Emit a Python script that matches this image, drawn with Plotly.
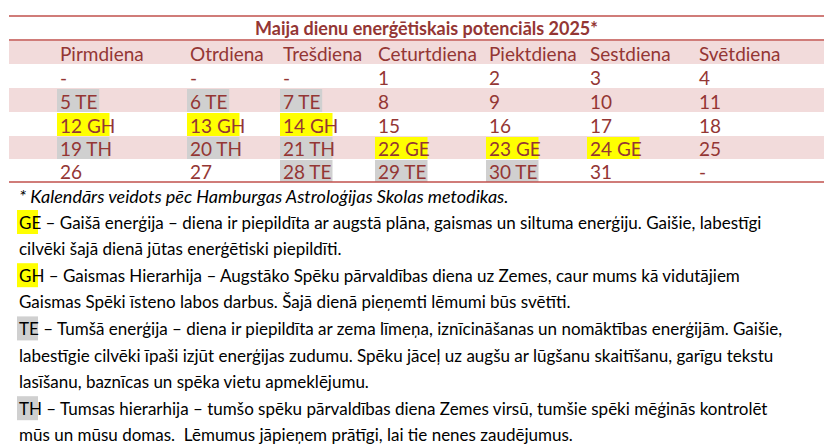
import plotly.graph_objects as go

title = "Maija dienu enerģētiskais potenciāls 2025*"
weekdays = ["Pirmdiena", "Otrdiena", "Trešdiena", "Ceturtdiena", "Piektdiena", "Sestdiena", "Svētdiena"]
weeks = [
    ["-", "-", "-", "1", "2", "3", "4"],
    ["5 TE", "6 TE", "7 TE", "8", "9", "10", "11"],
    ["12 GH", "13 GH", "14 GH", "15", "16", "17", "18"],
    ["19 TH", "20 TH", "21 TH", "22 GE", "23 GE", "24 GE", "25"],
    ["26", "27", "28 TE", "29 TE", "30 TE", "31", "-"],
]
footnote = "* Kalendārs veidots pēc Hamburgas Astroloģijas Skolas metodikas."
legend_codes = ["GE", "GH", "TE", "TH"]
legend_lines = [
    ["– Gaišā enerģija – diena ir piepildīta ar augstā plāna, gaismas un siltuma enerģiju. Gaišie, labestīgi",
     "cilvēki šajā dienā jūtas enerģētiski piepildīti."],
    ["– Gaismas Hierarhija – Augstāko Spēku pārvaldības diena uz Zemes, caur mums kā vidutājiem",
     "Gaismas Spēki īsteno labos darbus. Šajā dienā pieņemti lēmumi būs svētīti."],
    ["– Tumšā enerģija – diena ir piepildīta ar zema līmeņa, iznīcināšanas un nomāktības enerģijām. Gaišie,",
     "labestīgie cilvēki īpaši izjūt enerģijas zudumu. Spēku jāceļ uz augšu ar lūgšanu skaitīšanu, garīgu tekstu",
     "lasīšanu, baznīcas un spēka vietu apmeklējumu."],
    ["– Tumsas hierarhija – tumšo spēku pārvaldības diena Zemes virsū, tumšie spēki mēģinās kontrolēt",
     "mūs un mūsu domas.  Lēmumus jāpieņem prātīgi, lai tie nenes zaudējumus."],
]

RED = "#943634"
PINK = "#F2DBDB"
YELLOW = "#FFFF00"
GREY = "#D0D0D0"
FONT = "Lato"
col_x = [50, 180, 273, 368, 479, 580, 689]
row_top = [33, 56, 80, 104, 128, 151, 174]
char_w = 10.3

def mark_color(label):
    if label.endswith("GE") or label.endswith("GH"):
        return YELLOW
    if label.endswith("TE") or label.endswith("TH"):
        return GREY
    return None

fig = go.Figure()
shapes, anns = [], []

rows = [weekdays] + weeks
for i, row in enumerate(rows):
    y0, y1 = row_top[i], row_top[i + 1]
    if i % 2 == 0:
        shapes.append(dict(type="rect", x0=1, x1=836, y0=y0, y1=y1, fillcolor=PINK, line_width=0, layer="below"))
    for j, label in enumerate(row):
        c = mark_color(label)
        if c:
            shapes.append(dict(type="rect", x0=col_x[j] - 1, x1=col_x[j] + len(label) * char_w,
                               y0=y0 + 1, y1=y1, fillcolor=c, line_width=0, layer="below"))
        anns.append(dict(x=col_x[j], y=(y0 + y1) / 2 + 1, text=label, xanchor="left", yanchor="middle",
                         showarrow=False, font=dict(family=FONT, size=19, color=RED)))

for y in [8, 32, 174]:
    shapes.append(dict(type="line", x0=1, x1=836, y0=y, y1=y, line=dict(color="#C0504D", width=1.5)))

anns.append(dict(x=418, y=20, text="<b>" + title + "</b>", showarrow=False, xanchor="center", yanchor="middle",
                 font=dict(family=FONT, size=18, color=RED)))
anns.append(dict(x=9, y=188, text="<i>" + footnote + "</i>", showarrow=False, xanchor="left", yanchor="middle",
                 font=dict(family=FONT, size=18, color="black")))

y = 214
for code, lines in zip(legend_codes, legend_lines):
    c = mark_color(code)
    shapes.append(dict(type="rect", x0=9, x1=9 + len(code) * 10.5, y0=y - 12, y1=y + 12,
                       fillcolor=c, line_width=0, layer="below"))
    for k, line in enumerate(lines):
        txt = (code + " " + line) if k == 0 else line
        anns.append(dict(x=9, y=y, text=txt, showarrow=False, xanchor="left", yanchor="middle",
                         font=dict(family=FONT, size=17, color="black")))
        y += 26.6

fig.update_layout(
    width=832, height=444, margin=dict(l=0, r=0, t=0, b=0),
    plot_bgcolor="white", paper_bgcolor="white",
    xaxis=dict(range=[0, 832], visible=False, fixedrange=True),
    yaxis=dict(range=[444, 0], visible=False, fixedrange=True),
    shapes=shapes, annotations=anns, showlegend=False,
)
fig.write_html("out.html")
